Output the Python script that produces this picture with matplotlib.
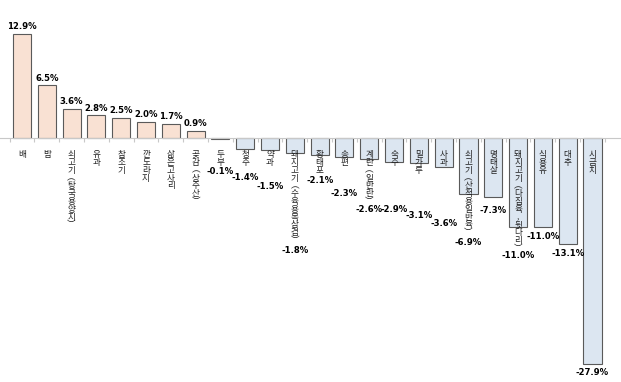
import matplotlib
matplotlib.use("Agg")
import matplotlib.pyplot as plt

plt.rcParams['font.family'] = ['Noto Sans CJK KR', 'DejaVu Sans']

categories = ["배", "밤", "쇠고기 (탕국용양지)", "유과", "참조기", "깐 도라지", "삶은 고사리",
              "곶감 (상주산)", "두부", "청주", "약과", "돼지고기 (수육용목삼겹)", "황태포", "송편",
              "계란(일반란)", "숙주", "밀가루", "사과", "쇠고기 (산적용일반육)", "명태살",
              "돼지고기 (다짐육,뒷다리)", "식용유", "대추", "시금치"]
values = [12.9, 6.5, 3.6, 2.8, 2.5, 2.0, 1.7, 0.9, -0.1, -1.4, -1.5, -1.8, -2.1, -2.3,
          -2.6, -2.9, -3.1, -3.6, -6.9, -7.3, -11.0, -11.0, -13.1, -27.9]
# where the negative value labels sit (moved by hand in the original)
neg_label_y = [-4.1, -4.9, -6.0, -13.9, -5.3, -6.8, -8.8, -8.8, -9.6, -10.5,
               -12.9, -8.9, -14.5, -12.2, -14.3, -28.9]

def vertical(s):
    s = s.replace(" ", "").replace("(", "︵").replace(")", "︶")
    return "\n".join(s)

fig = plt.figure(figsize=(6.21, 3.82), dpi=100)
ax = fig.add_axes([0, 0, 1, 1])

x = list(range(len(values)))
colors = ["#F9E1D3" if v > 0 else "#DCE6F1" for v in values]
ax.bar(x, values, width=0.73, color=colors, edgecolor="#5a5a5a", linewidth=0.8, zorder=2)

ax.set_xlim(-0.887, 24.15)
ax.set_ylim(-30.12, 17.04)

for s in ["top", "right", "left"]:
    ax.spines[s].set_visible(False)
ax.spines["bottom"].set_position(("data", 0))
ax.spines["bottom"].set_color("#c8c8c8")
ax.set_yticks([])
ax.set_xticks([i + 0.5 for i in range(-1, len(values))])
ax.set_xticklabels([])
ax.tick_params(axis="x", length=3, color="#c8c8c8", direction="out")

k = 0
for i, (c, v) in enumerate(zip(categories, values)):
    ax.text(i, -1.5, vertical(c), ha="center", va="top", fontsize=6.2,
            linespacing=0.83, color="#222222", zorder=3)
    if v > 0:
        ax.annotate(f"{v:.1f}%", (i, v), xytext=(0, 2), textcoords="offset points",
                    ha="center", va="bottom", fontsize=6.1, fontweight="bold",
                    family="DejaVu Sans")
    else:
        ax.text(i, neg_label_y[k], f"{v:.1f}%", ha="center",
                va="center", fontsize=6.1, fontweight="bold", family="DejaVu Sans")
        k += 1

fig.savefig("out.png", dpi=100)
